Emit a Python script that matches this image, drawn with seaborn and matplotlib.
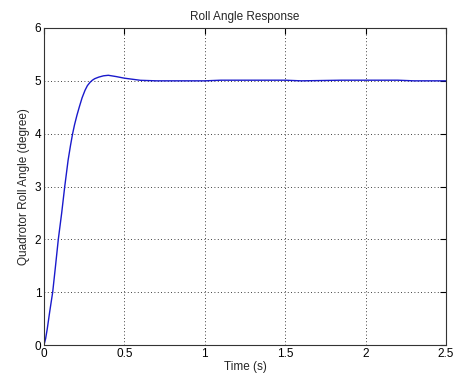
import matplotlib
matplotlib.use("Agg")
import matplotlib.pyplot as plt
import seaborn as sns
import pandas as pd

# Valores (tempo em s, ângulo em graus)
tempo = [0, 0.01, 0.02, 0.035, 0.054, 0.07, 0.089, 0.11, 0.129, 0.15, 0.165, 0.178,
         0.19, 0.205, 0.22, 0.237, 0.255, 0.27, 0.286, 0.30, 0.315, 0.34, 0.37,
         0.40, 0.45, 0.5, 0.55, 0.6, 0.7, 0.8, 1.0, 1.1, 1.5, 1.6, 1.85, 2.2,
         2.3, 2.5]
angulo = [0, 0.12, 0.3, 0.62, 1.0, 1.45, 2.0, 2.5, 3.0, 3.5, 3.78, 4.0,
          4.17, 4.35, 4.51, 4.68, 4.82, 4.91, 4.97, 5.01, 5.04, 5.07, 5.095,
          5.105, 5.08, 5.05, 5.03, 5.01, 5.0, 5.0, 5.0, 5.012, 5.012, 5.0, 5.012, 5.012,
          5.0, 5.0]

xticks = [0, 0.5, 1, 1.5, 2, 2.5]
yticks = [0, 1, 2, 3, 4, 5, 6]

df = pd.DataFrame({'Tempo': tempo, 'Angulo': angulo})

sns.set_style('white')
plt.rcParams['font.family'] = ['Liberation Sans', 'DejaVu Sans']
plt.rcParams['font.size'] = 8.5

fig, ax = plt.subplots(figsize=(4.58, 3.83), dpi=100)
fig.subplots_adjust(left=44/458, right=446/458, top=1-28/383, bottom=1-345/383)

sns.lineplot(data=df, x='Tempo', y='Angulo', ax=ax, color='#1a1acc', linewidth=1)

ax.set_xlim(0, 2.5)
ax.set_ylim(0, 6)
ax.set_xticks(xticks)
ax.set_xticklabels([f'{v:g}' for v in xticks])
ax.set_yticks(yticks)
ax.grid(True, color='black', linestyle=(0, (1, 3)), linewidth=0.6)
ax.tick_params(direction='in', length=4, top=True, right=True, colors='black',
               labelsize=8.5, pad=2)
for s in ax.spines.values():
    s.set_color('#333333')
    s.set_linewidth(0.8)

ax.set_title('Roll Angle Response', fontsize=8.5, pad=6)
ax.set_xlabel('Time (s)', fontsize=8.5, labelpad=1)
ax.set_ylabel('Quadrotor Roll Angle (degree)', fontsize=8.5, labelpad=3)

fig.savefig('out.png', dpi=100)
